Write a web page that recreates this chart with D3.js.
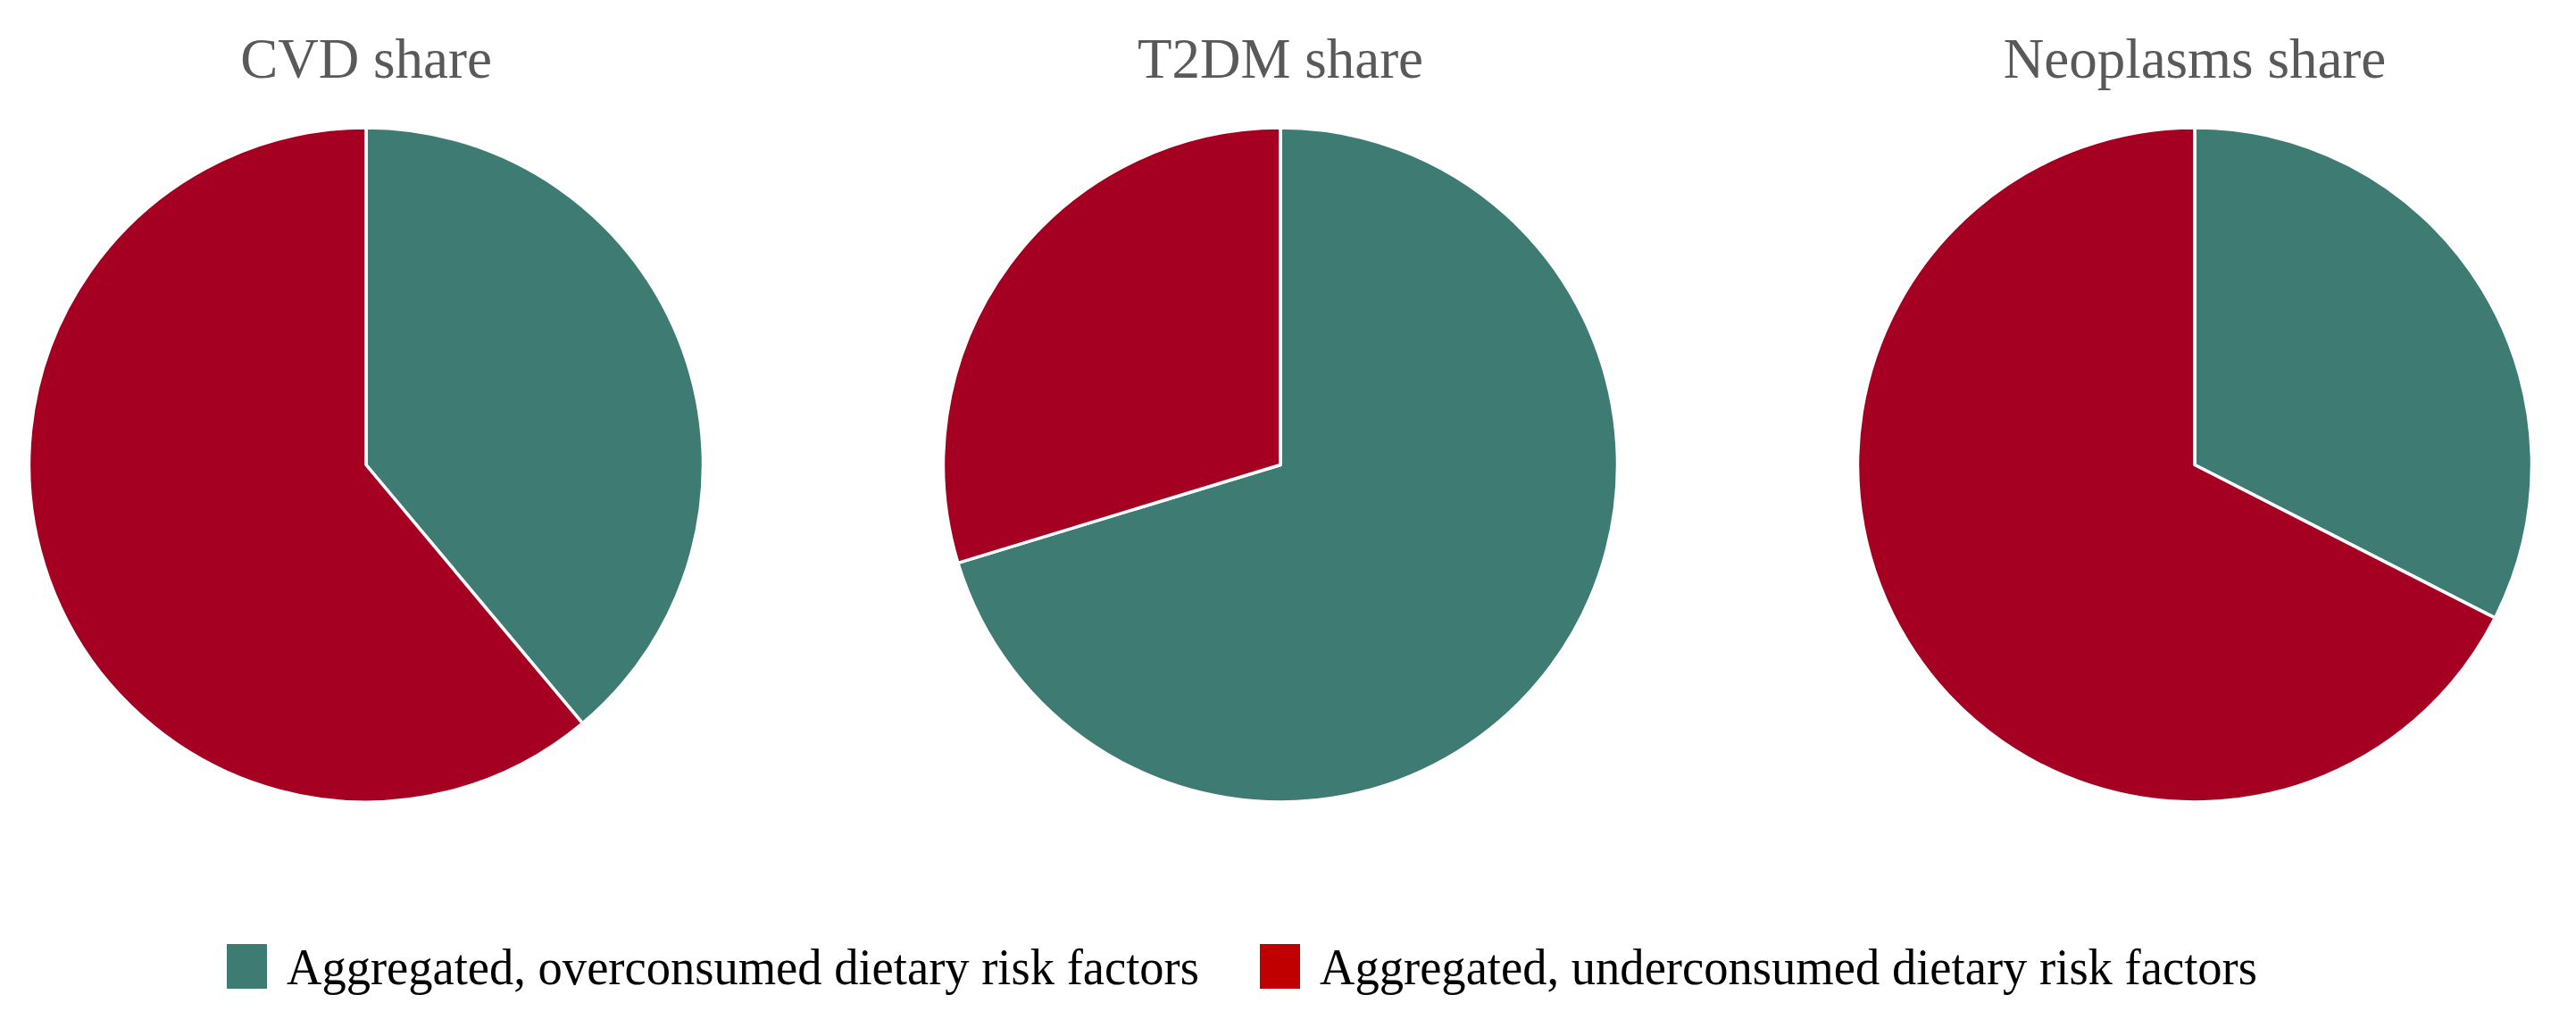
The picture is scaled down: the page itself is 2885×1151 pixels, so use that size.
<!DOCTYPE html>
<html lang="en">
<head>
<meta charset="utf-8">
<script src="https://d3js.org/d3.v7.min.js"></script>
<title>Dietary risk factor shares</title>
<style>
    body { margin: 0; background: #fff; }
</style>
</head>
<body>
<div id="container"></div>
<script>
    // data (percent of each disease share)
    var diseases = ["CVD share", "T2DM share", "Neoplasms share"];
    var categories = ["Aggregated, overconsumed dietary risk factors",
                      "Aggregated, underconsumed dietary risk factors"];
    var overconsumed = [38.9, 70.3, 32.5];
    var underconsumed = [61.1, 29.7, 67.5];

    var width = 2885, height = 1151;
    var radius = 377.5, cy = 520.5;

    var sliceColour = d3.scaleOrdinal().domain(categories).range(["#3e7b72", "#a50021"]);
    var keyColour = d3.scaleOrdinal().domain(categories).range(["#3e7b72", "#c00000"]);

    var svg = d3.select("#container")
        .append("svg")
        .attr("width", width)
        .attr("height", height);

    var cx = d3.scalePoint()
        .domain(diseases)
        .range([410, 2458]);

    var pie = d3.pie().sort(null).value(function (d) { return d.value; });
    var arc = d3.arc().innerRadius(0).outerRadius(radius);

    diseases.forEach(function (name, i) {
        var rows = [
            {cat: categories[0], value: overconsumed[i]},
            {cat: categories[1], value: underconsumed[i]}
        ];
        var g = svg.append("g")
            .attr("transform", "translate(" + cx(name) + "," + cy + ")");

        g.selectAll("path")
            .data(pie(rows))
            .enter()
            .append("path")
            .attr("d", arc)
            .attr("fill", function (d) { return sliceColour(d.data.cat); })
            .attr("stroke", "#fff")
            .attr("stroke-width", 3.5)
            .attr("stroke-linejoin", "round");

        svg.append("text")
            .attr("x", cx(name))
            .attr("y", 87)
            .attr("text-anchor", "middle")
            .style("font-family", "'Liberation Serif', 'DejaVu Serif', serif")
            .style("font-size", "63px")
            .style("fill", "#595959")
            .text(name);
    });

    // legend
    var keyX = [254, 1411], textLen = [1022, 1050];
    var legend = svg.append("g");
    categories.forEach(function (c, i) {
        legend.append("rect")
            .attr("x", keyX[i])
            .attr("y", 1057)
            .attr("width", 45)
            .attr("height", 50)
            .attr("fill", keyColour(c));
        legend.append("text")
            .attr("x", keyX[i] + 67)
            .attr("y", 1102)
            .attr("textLength", textLen[i])
            .attr("lengthAdjust", "spacingAndGlyphs")
            .style("font-family", "'Liberation Serif', serif")
            .style("font-size", "57px")
            .style("fill", "#000")
            .text(c);
    });
</script>
</body>
</html>
